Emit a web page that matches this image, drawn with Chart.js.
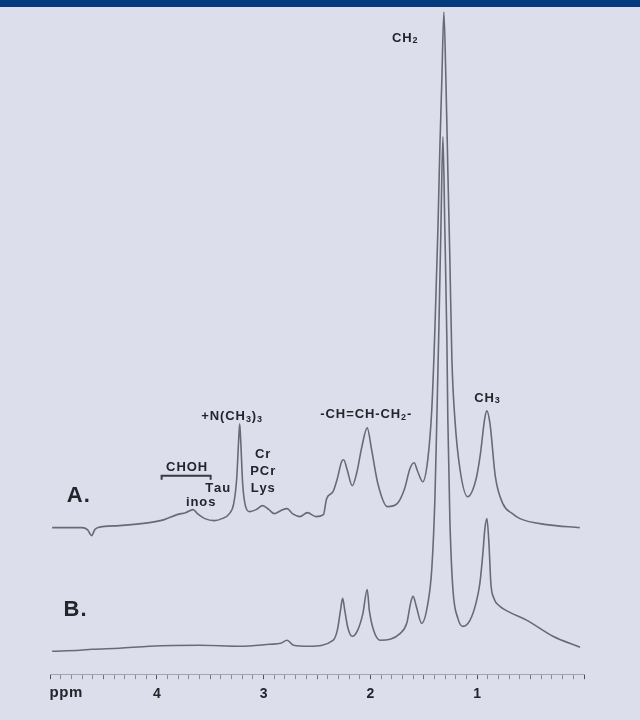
<!doctype html>
<html>
<head>
  <meta charset="utf-8" />
  <title>1H NMR spectra</title>
  <style>
    html,body{margin:0;padding:0;background:#dcdeeb}
    .bar{position:absolute;left:0;top:0;width:640px;height:7px;background:#023a80}
    .wrap{position:absolute;left:0;top:0;width:640px;height:720px}
  </style>
</head>
<body>
  <div class="wrap"><canvas id="nmr" width="640" height="720"></canvas></div>
  <div class="bar"></div>

  <script src="https://cdn.jsdelivr.net/npm/chart.js@4.4.1/dist/chart.umd.min.js"></script>
  <script>
    // spectrum A (upper trace): chemical shift (ppm) and intensity
    const aPpm = [4.98, 4.82, 4.70, 4.65, 4.61, 4.58, 4.55, 4.35, 4.07, 3.93, 3.81, 3.73, 3.66, 3.62, 3.55, 3.46, 3.39, 3.32,
      3.280, 3.252, 3.233, 3.224, 3.215, 3.196, 3.168, 3.13, 3.07, 3.01, 2.95, 2.90, 2.84, 2.78, 2.73, 2.66, 2.59, 2.51, 2.44,
      2.41, 2.35, 2.31, 2.27, 2.25, 2.22, 2.17, 2.13, 2.08, 2.03, 1.99, 1.93, 1.84, 1.75, 1.68, 1.63, 1.59, 1.56, 1.51,
      1.462, 1.425, 1.396, 1.368, 1.350, 1.331, 1.312, 1.293, 1.275, 1.256, 1.237, 1.209, 1.162, 1.09, 1.01, 0.97, 0.93,
      0.91, 0.88, 0.83, 0.76, 0.67, 0.60, 0.35, 0.04];
    const aVal = [147, 147, 147, 145, 139, 145, 147, 149, 152, 155, 160, 162, 165, 161, 156, 154, 156, 161,
      171, 196, 236, 251, 236, 191, 168, 163, 165, 169, 165, 161, 164, 166, 161, 158, 162, 158, 160,
      176, 183, 196, 213, 215, 206, 189, 201, 228, 247, 226, 191, 168, 171, 186, 206, 212, 204, 193,
      216, 266, 346, 446, 526, 596, 664, 596, 506, 416, 316, 256, 206, 178, 196, 221, 256,
      264, 251, 198, 171, 161, 156, 150, 147];

    // spectrum B (lower trace)
    const bPpm = [4.98, 4.72, 4.61, 4.35, 4.07, 3.60, 3.22, 2.94, 2.84, 2.78, 2.72, 2.57, 2.35, 2.31, 2.28, 2.26, 2.24,
      2.21, 2.17, 2.12, 2.07, 2.03, 2.01, 1.97, 1.91, 1.72, 1.66, 1.62, 1.60, 1.57, 1.52, 1.462, 1.425, 1.396, 1.378,
      1.359, 1.340, 1.321, 1.303, 1.284, 1.275, 1.256, 1.228, 1.181, 1.134, 1.068, 1.012, 0.975, 0.947, 0.928, 0.909,
      0.890, 0.872, 0.843, 0.787, 0.694, 0.534, 0.291, 0.037];
    const bVal = [23, 24, 25, 26, 28, 29, 28, 30, 31, 34, 29, 28, 34, 44, 64, 76, 64,
      46, 38, 44, 61, 85, 64, 44, 34, 41, 51, 73, 78, 68, 51, 71, 106, 176, 256,
      346, 446, 539, 446, 336, 256, 156, 86, 56, 48, 54, 71, 91, 121, 146, 156,
      131, 91, 76, 68, 62, 54, 38, 27];

    // axis labels shown under the ppm scale
    const axisLabels = [1, 2, 3, 4];

    // peak labels: text ("_" = subscript digit), ppm, intensity
    const peakText = ['CH_2', 'CH_3', '-CH=CH-CH_2-', '+N(CH_3)_3', 'Cr', 'PCr', 'Lys', 'CHOH', 'Tau', 'inos'];
    const peakPpm  = [1.678, 0.909, 2.043, 3.299, 3.008, 3.008, 3.008, 3.721, 3.430, 3.589];
    const peakVal  = [638, 277, 260, 258, 220, 203, 186, 207, 186, 172];

    const traceNames = ['A.', 'B.'];
    const tracePpm = [4.735, 4.765];
    const traceVal = [179, 64];

    const toPts = (xs, ys) => xs.map((x, i) => ({x, y: ys[i]}));
    const FONT = "'Liberation Sans', Arial, sans-serif";

    function drawRich(c, str, cx, cy, size, gap){
      // split into normal / subscript pieces
      const parts = [];
      for (let i = 0; i < str.length; i++){
        if (str[i] === '_'){ parts.push({t: str[i+1], sub: true}); i++; }
        else parts.push({t: str[i], sub: false});
      }
      const fN = 'bold ' + size + 'px ' + FONT, fS = 'bold ' + Math.round(size*0.7) + 'px ' + FONT;
      let w = 0;
      parts.forEach(p => { c.font = p.sub ? fS : fN; p.w = c.measureText(p.t).width + gap; w += p.w; });
      w -= gap;
      let x = cx - w/2;
      c.textBaseline = 'middle'; c.textAlign = 'left';
      parts.forEach(p => { c.font = p.sub ? fS : fN; c.fillText(p.t, x, p.sub ? cy + size*0.2 : cy); x += p.w; });
    }

    const labelPlugin = {
      id: 'labels',
      afterDatasetsDraw(chart){
        const c = chart.ctx, xs = chart.scales.x, ys = chart.scales.y;
        c.save();
        c.fillStyle = '#24242c';
        peakText.forEach((t, i) => drawRich(c, t, xs.getPixelForValue(peakPpm[i]), ys.getPixelForValue(peakVal[i]), 13, 0.9));
        // bracket under CHOH
        const bx0 = xs.getPixelForValue(3.955), bx1 = xs.getPixelForValue(3.496), by = ys.getPixelForValue(199);
        c.strokeStyle = '#3a3a44'; c.lineWidth = 2;
        c.beginPath();
        c.moveTo(bx0, by + 4); c.lineTo(bx0, by); c.lineTo(bx1, by); c.lineTo(bx1, by + 4);
        c.stroke();
        // trace names
        traceNames.forEach((t, i) => drawRich(c, t, xs.getPixelForValue(tracePpm[i]), ys.getPixelForValue(traceVal[i]), 22, 1));
        // ppm unit
        drawRich(c, 'ppm', xs.getPixelForValue(5) + 16, chart.chartArea.bottom + 19, 15, 0.6);
        c.restore();
      }
    };

    new Chart(document.getElementById('nmr'), {
      type: 'line',
      data: {
        datasets: [
          { label: 'A', data: toPts(aPpm, aVal) },
          { label: 'B', data: toPts(bPpm, bVal) }
        ]
      },
      options: {
        responsive: false,
        animation: false,
        events: [],
        layout: { padding: { left: 50, right: 56, top: 10, bottom: 10 } },
        elements: {
          line: { borderColor: '#686b75', borderWidth: 1.6, cubicInterpolationMode: 'monotone' },
          point: { radius: 0 }
        },
        plugins: { legend: { display: false }, tooltip: { enabled: false } },
        scales: {
          x: {
            type: 'linear', reverse: true, min: 0, max: 5,
            border: { display: true, color: '#a2a4b2', width: 1 },
            grid: {
              drawOnChartArea: false, tickLength: 5,
              color: ctx => {
                const v = Math.round(ctx.tick.value * 10);
                return v % 10 === 0 ? '#4e4f58' : (v % 5 === 0 ? '#6e707a' : '#8a8c98');
              }
            },
            ticks: {
              stepSize: 0.1, autoSkip: false, maxRotation: 0, padding: 7,
              color: '#24242c', font: { family: FONT, size: 14, weight: 'bold' },
              callback: v => {
                const r = Math.round(v);
                return Math.abs(v - r) < 1e-6 && axisLabels.includes(r) ? String(r) : '';
              }
            }
          },
          y: { display: false, min: 0, max: 666 }
        }
      },
      plugins: [labelPlugin]
    });
  </script>
</body>
</html>
